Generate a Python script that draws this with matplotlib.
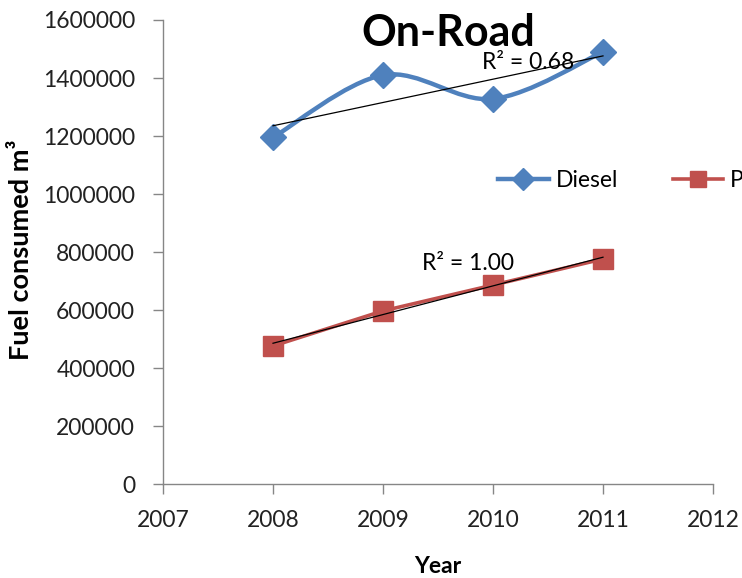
import numpy as np
import matplotlib
matplotlib.use("Agg")
import matplotlib.pyplot as plt
from matplotlib.path import Path
from matplotlib.patches import PathPatch
from matplotlib.lines import Line2D

years = [2008, 2009, 2010, 2011]
diesel = [1195000, 1410000, 1328000, 1490000]
petrol = [476000, 597000, 686000, 776000]
r2_labels = ["R² = 0.68", "R² = 1.00"]

BLUE = "#4F81BD"
RED = "#C0504D"
GREY = "#868686"

plt.rcParams["font.family"] = ["Lato", "DejaVu Sans"]


def smooth_path(x, y, tension=1 / 6):
    """Catmull-Rom style bezier path through the points (Excel 'smoothed line')."""
    x = np.asarray(x, float)
    y = np.asarray(y, float)
    verts = [(x[0], y[0])]
    codes = [Path.MOVETO]
    n = len(x)
    for i in range(n - 1):
        x0, y0 = (x[i - 1], y[i - 1]) if i > 0 else (x[i], y[i])
        x3, y3 = (x[i + 2], y[i + 2]) if i + 2 < n else (x[i + 1], y[i + 1])
        c1 = (x[i] + (x[i + 1] - x0) * tension, y[i] + (y[i + 1] - y0) * tension)
        c2 = (x[i + 1] - (x3 - x[i]) * tension, y[i + 1] - (y3 - y[i]) * tension)
        verts += [c1, c2, (x[i + 1], y[i + 1])]
        codes += [Path.CURVE4] * 3
    return Path(verts, codes)


fig = plt.figure(figsize=(7.42, 5.78), dpi=100)
ax = fig.add_axes([0.2197, 0.1626, 0.7412, 0.8028])

# Diesel: smoothed line with diamond markers
ax.add_patch(PathPatch(smooth_path(years, diesel), facecolor="none",
                       edgecolor=BLUE, lw=3.2, zorder=2))
ax.plot(years, diesel, ls="none", marker="D", ms=13, color=BLUE, zorder=3)

# Petrol: straight line with square markers
ax.plot(years, petrol, color=RED, lw=2.6, marker="s", ms=14, zorder=2)

# linear trendlines
xs = np.array([years[0], years[-1]])
for series in (diesel, petrol):
    k, b = np.polyfit(years, series, 1)
    ax.plot(xs, k * xs + b, color="black", lw=0.9, zorder=4)

ax.text(2009.9, 1455000, r2_labels[0], fontsize=16.5, ha="left", va="center", zorder=5)
ax.text(2009.35, 760000, r2_labels[1], fontsize=16.5, ha="left", va="center", zorder=5)

ax.set_xlim(2007, 2012)
ax.set_ylim(0, 1600000)
ax.set_xticks(range(2007, 2013))
ax.set_yticks(range(0, 1600001, 200000))
ax.ticklabel_format(axis="y", style="plain", useOffset=False)
ax.tick_params(axis="both", direction="out", length=7, width=1, color=GREY,
               labelsize=16.5, labelcolor="#222222")
ax.tick_params(axis="x", pad=12)
ax.tick_params(axis="y", pad=13)
for side in ("top", "right"):
    ax.spines[side].set_visible(False)
for side in ("left", "bottom"):
    ax.spines[side].set_color(GREY)
    ax.spines[side].set_linewidth(1)

ax.set_title("On-Road", fontsize=31, fontweight="bold", x=0.518, y=0.925)
ax.set_xlabel("Year", fontsize=16.5, fontweight="bold")
ax.xaxis.set_label_coords(0.5, -0.155)
ax.set_ylabel("Fuel consumed m³", fontsize=19.5, fontweight="bold")
ax.yaxis.set_label_coords(-0.236, 0.505)

handles = [
    Line2D([], [], color=BLUE, lw=3.2, marker="D", ms=11),
    Line2D([], [], color=RED, lw=2.6, marker="s", ms=12),
]
ax.legend(handles, ["Diesel", "Petrol"], loc="center left",
          bbox_to_anchor=(0.572, 0.655), ncol=2, frameon=False,
          fontsize=16.5, handlelength=2.2, handletextpad=0.3, columnspacing=2.4)

fig.savefig("out.png", dpi=100)
